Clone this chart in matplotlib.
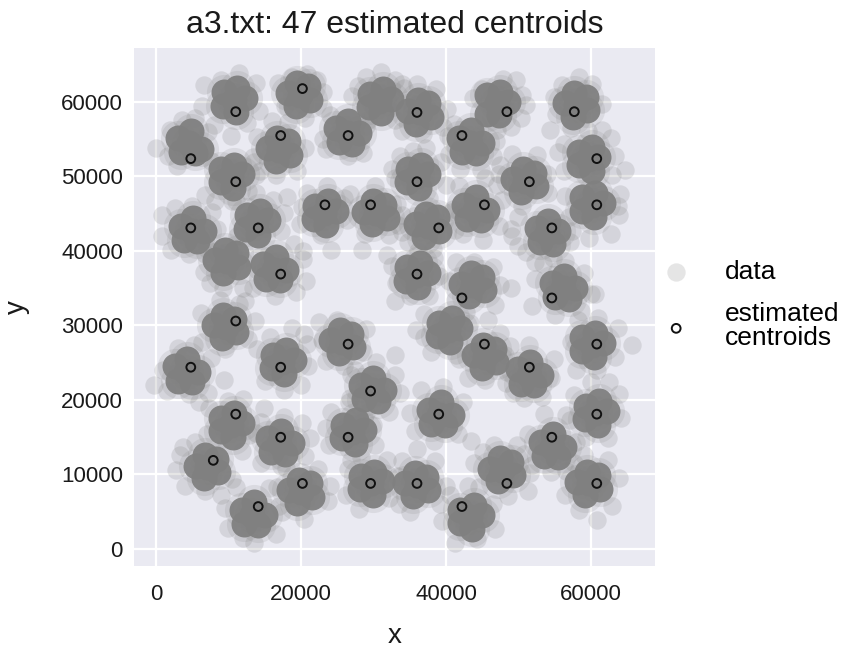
import matplotlib
matplotlib.use("Agg")
import matplotlib.pyplot as plt

TITLE = "a3.txt: 47 estimated centroids"
LEGEND_LABELS = ["data", "estimated\ncentroids"]
X_TICKS = [0, 20000, 40000, 60000]
Y_TICKS = [0, 10000, 20000, 30000, 40000, 50000, 60000]

centroids_x = [11000, 20200, 26500, 36000, 42200, 48400, 57700, 4800, 17200, 11000, 36000, 51500,
               60800, 60800, 23300, 29600, 45300, 4800, 14100, 39000, 54600, 17200, 36000, 42200,
               54600, 11000, 26500, 45300, 60800, 4800, 17200, 51500, 29600, 11000, 39000, 60800,
               17200, 26500, 54600, 7900, 20200, 29600, 36000, 48400, 60800, 14100, 42200]
centroids_y = [58700, 61800, 55500, 58600, 55500, 58700, 58700, 52400, 55500, 49300, 49300, 49300,
               52400, 46200, 46200, 46200, 46200, 43100, 43100, 43100, 43100, 36900, 36900, 33700,
               33700, 30600, 27500, 27500, 27500, 24400, 24400, 24400, 21200, 18100, 18100, 18100,
               15000, 15000, 15000, 11900, 8800, 8800, 8800, 8800, 8800, 5700, 5700]

# dense inner points of each of the 50 visible groups
dense_points = [
 (10700,60300),(12300,60600),(11200,61900),(9400,61300),(9300,59500),(11000,58700),
 (19800,61000),(21300,60300),(21000,62100),(19500,62600),(18200,61200),(19300,59500),
 (4600,54500),(6200,53700),(4800,56100),(3100,55200),(3500,53300),(5400,53100),
 (10300,50000),(11900,50300),(10800,51600),(9000,51000),(8900,49200),(10600,48400),
 (17000,53600),(18500,52900),(18200,54700),(16700,55200),(15400,53800),(16500,52100),
 (26300,55800),(28000,55800),(26500,57500),(24800,56500),(25200,54600),(27100,54400),
 (30800,60100),(32400,60400),(31300,61700),(29500,61100),(29400,59300),(31100,58500),
 (36400,58600),(38000,58000),(37500,59800),(36100,60300),(34800,58800),(35900,57100),
 (43300,54500),(45000,54500),(43500,56200),(41800,55200),(42200,53300),(44100,53100),
 (47000,59900),(48500,60000),(47500,61400),(45700,60900),(45600,58400),(47300,58300),
 (58000,59600),(59500,58900),(59300,60700),(57700,61200),(56400,59800),(57500,58000),
 (59600,52300),(61000,52600),(60100,53900),(58300,53300),(58400,51500),(60100,50700),
 (60100,46200),(61700,46500),(60600,47800),(58800,47200),(58700,45400),(60400,44600),
 (50900,49400),(52400,48700),(52100,50500),(50600,51000),(49300,49600),(50400,47900),
 (44000,45500),(45700,45500),(44200,47200),(42500,46200),(42900,44300),(44800,44100),
 (36000,50000),(37500,50300),(36500,51600),(34700,51000),(34600,49200),(36300,48400),
 (37500,43400),(39000,42700),(38700,44500),(37200,45000),(35900,43600),(37000,41900),
 (53900,42400),(55400,42700),(54100,44000),(52600,43100),(53000,41200),(54700,41000),
 (23200,45100),(24800,45400),(23700,46700),(21900,46100),(21800,44300),(23500,43500),
 (30300,45100),(31800,44400),(31500,46200),(30000,46700),(28700,45300),(29800,43600),
 (4900,42700),(6600,42700),(5100,44400),(3400,43400),(3800,41500),(5700,41300),
 (13800,43800),(15400,44100),(14300,45400),(12500,44800),(12400,43000),(14100,42200),
 (9800,38600),(11300,37900),(11000,39700),(9500,40200),(8200,38800),(9300,37100),
 (16300,37500),(18000,37500),(16500,39200),(14800,38200),(15200,36300),(17100,36100),
 (35900,36800),(37500,37100),(36400,38400),(34600,37800),(34500,36000),(36200,35200),
 (43700,35400),(45200,34700),(44900,36500),(43400,37000),(42100,35600),(43200,33900),
 (56100,35000),(57800,35000),(56300,36700),(54600,35700),(55000,33800),(56900,33600),
 (40300,29400),(41900,29700),(40800,31000),(39000,30400),(38900,28600),(40600,27800),
 (45400,25800),(46900,25100),(46600,26900),(45100,27400),(43800,26000),(44900,24300),
 (51400,23400),(53100,23400),(51600,25100),(49900,24100),(50300,22200),(52200,22000),
 (60100,27400),(61700,27700),(60600,29000),(58800,28400),(58700,26600),(60400,25800),
 (9600,29800),(11100,29100),(10800,30900),(9300,31400),(8000,30000),(9100,28300),
 (4100,23800),(5800,23800),(4300,25500),(2600,24500),(3000,22600),(4900,22400),
 (17400,25100),(19000,25400),(17900,26700),(16100,26100),(16000,24300),(17700,23500),
 (25700,27800),(27200,27100),(26900,28900),(25400,29400),(24100,28000),(25200,26300),
 (29800,21300),(31500,21300),(30000,23000),(28300,22000),(28700,20100),(30600,19900),
 (10300,16600),(11900,16900),(10800,18200),(9000,17600),(8900,15800),(10600,15000),
 (7100,11000),(8600,10300),(8300,12100),(6800,12600),(5500,11200),(6600,9500),
 (17000,14200),(18700,14200),(17200,15900),(15500,14900),(15900,13000),(17800,12800),
 (27100,15700),(28700,16000),(27600,17300),(25800,16700),(25700,14900),(27400,14100),
 (20000,7700),(21500,7000),(21200,8800),(19700,9300),(18400,7900),(19500,6200),
 (13300,4600),(15000,4600),(13500,6300),(11800,5300),(12200,3400),(14100,3200),
 (29600,8800),(31200,9100),(30100,10400),(28300,9800),(28200,8000),(29900,7200),
 (36000,8600),(37500,7900),(37200,9700),(35700,10200),(34400,8800),(35500,7100),
 (39100,18000),(40800,18000),(39300,19700),(37600,18700),(38000,16800),(39900,16600),
 (43300,4300),(44900,4600),(43800,5900),(42000,5300),(41900,3500),(43600,2700),
 (47700,10600),(49200,9900),(48900,11700),(47400,12200),(46100,10800),(47200,9100),
 (54600,13700),(56300,13700),(54800,15400),(53100,14400),(53500,12500),(55400,12300),
 (60600,18200),(62200,18500),(61100,19800),(59300,19200),(59200,17400),(60900,16600),
 (59700,8800),(61200,8100),(60900,9900),(59400,10400),(58100,9000),(59200,7300),
]

# thin outer points that stand apart from the dense groups
sparse_points = [
 (6600,62300),(11400,63900),(9000,62900),(13800,62500),(6400,59500),(14200,58800),(8000,56900),(10300,55400),(12600,57200),
 (16800,62600),(17800,59500),(20800,63700),(18800,63400),(23100,61300),(23000,59200),(22200,63000),(20500,57900),
 (0,53800),(2000,56200),(3600,57600),(5400,57900),(1600,52800),(2900,51400),(7200,56000),
 (6800,47500),(8200,46700),(12700,48000),(13800,50200),(10500,46700),(7600,52100),(13500,52000),
 (13400,52600),(13900,55300),(16000,57500),(18200,57300),(20600,53800),(19500,50800),(16600,50200),(14300,50800),
 (23000,55100),(24000,58200),(23500,53700),(26500,52800),(28500,53100),(29000,56800),
 (29000,63300),(31000,64000),(33000,62900),(27800,62200),(27000,60800),(34000,62400),(32900,57600),(29200,57600),
 (38600,61800),(36000,62400),(34200,61900),(40100,59000),(39600,56700),(36800,55700),(33900,56100),
 (40300,55400),(40400,53000),(42000,51000),(44800,50900),(46500,52800),(46900,54800),(41100,57100),(47000,56300),
 (47800,63100),(45000,61700),(43700,60500),(50500,60900),(51100,59600),(50300,57900),(48900,56700),(49700,63000),
 (56000,62300),(58300,63300),(60100,62400),(61500,59700),(54900,60700),(54300,56200),(55200,58400),(59600,56100),(57200,56500),
 (56300,54300),(62800,55200),(63300,52700),(62900,50200),(56300,50800),(55500,53300),(61500,56300),
 (64700,50900),(64000,47600),(63900,44800),(62800,42300),(59700,41800),(57000,44500),(56400,47400),(63700,46000),
 (52500,52900),(49100,53000),(47500,51500),(47100,48800),(53900,50300),(54100,47800),(50500,46100),(47300,50300),
 (45400,49800),(41800,48700),(47300,43300),(47700,46800),(45100,41500),(42400,42300),(40900,45600),(49000,43000),
 (37300,53800),(35500,53400),(33600,52800),(39300,52000),(40000,48800),(33000,49800),(32500,51000),(37700,47100),
 (41200,42800),(40700,45200),(38200,40300),(34800,41200),(33900,44800),(36100,40000),(34000,42500),
 (49100,42000),(49900,40700),(51000,39900),(54700,39100),(57100,41200),(57400,42700),(50000,44500),(52300,38500),
 (19800,43600),(20800,47800),(23600,48700),(25900,47100),(26300,44200),(22700,42100),(24100,40200),(20200,45900),
 (28400,40100),(31900,39500),(26800,47700),(30200,48700),(33200,46300),(33400,43500),(28800,42300),(32100,42100),
 (800,44800),(800,42000),(2600,45800),(4900,46000),(7700,45200),(8400,43000),(2100,40200),(4600,39600),
 (11000,46700),(13800,47800),(16200,46800),(17700,45100),(17300,42700),(11200,42000),(18100,47200),
 (6600,37200),(7100,40300),(6800,39600),(9300,35100),(12000,35000),(7500,35700),
 (20300,38900),(20700,36000),(19300,34500),(16400,34000),(13400,35000),(20300,40000),(19000,40900),
 (33000,33300),(35000,33900),(37600,33900),(39100,36600),(38400,39000),(32600,38000),(33100,35700),
 (41400,38500),(43800,38500),(46500,37800),(47500,35400),(49000,35000),(46700,32800),(41300,33400),(40400,36000),
 (52300,36200),(53400,38200),(56400,38600),(59000,37100),(60000,34200),(58600,31900),(55000,31400),(51800,32600),(60600,34200),
 (45800,30700),(37000,31500),(37000,28500),(38000,26400),(41400,26000),(42700,31800),(35800,29400),
 (43000,23000),(45400,22700),(48400,23700),(48800,27300),(43300,30400),(41800,25500),(47500,29000),
 (48200,26000),(48300,22300),(50800,20300),(53200,20400),(54500,23000),(54900,25500),(51500,27400),(49200,20900),
 (65600,27400),(63700,29700),(63300,25800),(60800,24000),(58000,24000),(57200,27800),(58200,30800),(61000,31000),
 (6200,31700),(8800,33400),(11500,32900),(13600,30600),(12700,28200),(9500,26900),(6400,27800),(12300,33300),
 (-300,22000),(1000,24000),(1500,21200),(3000,27000),(5200,27400),(7600,25600),(9400,22700),(7200,21000),(4500,20800),
 (14000,26800),(15700,28400),(18800,29700),(20800,27500),(21000,24500),(20000,22000),(17700,21400),(15000,22500),(20400,28800),
 (22500,30500),(22900,28000),(23500,25200),(26000,24500),(28500,26500),(29000,29500),(25000,30800),(33000,26000),
 (26700,20300),(27500,24000),(30400,25100),(33000,23400),(33600,21000),(32100,18400),(29000,18200),(26900,23300),
 (5900,19700),(7300,18900),(10000,19900),(14900,18900),(13800,15600),(11800,13100),(7100,15500),(12000,20100),
 (2700,10600),(3700,13700),(5400,14400),(8900,7200),(10500,9400),(6800,7800),(4000,8500),(3300,12600),
 (12800,15300),(14500,17000),(17600,17700),(21300,14900),(20600,12500),(18000,10900),(14500,11500),(20100,16900),
 (24200,18400),(26600,19700),(30000,16700),(30200,14000),(26900,11900),(23900,14000),(23400,16300),
 (16700,8300),(17300,11100),(22300,10800),(24000,8400),(23700,6500),(20400,4000),(17400,5000),
 (13500,800),(9500,5500),(10000,2800),(16500,2000),(16900,5800),(15600,8200),(11000,8300),(12000,1500),
 (26500,10800),(28300,12400),(31800,12000),(33300,9800),(32100,6800),(28000,5400),(26200,7300),
 (36000,13400),(38500,11800),(40000,8500),(39200,6100),(35000,4900),(33500,6000),(34000,11800),
 (35000,18200),(36500,21400),(39600,21800),(42300,19700),(43500,14500),(41600,15500),(38300,14500),(35700,15800),
 (41200,800),(39500,3700),(40500,7200),(43000,8400),(46500,6000),(46800,2700),(44300,1300),
 (46600,14000),(43900,11500),(44600,8300),(48500,7100),(51300,7800),(51800,11300),(49800,14000),(45100,13000),
 (50700,12700),(51300,15500),(53500,18100),(56600,18000),(58000,14400),(57600,11500),(54500,10300),(51600,10200),
 (62500,22400),(60000,22400),(57600,20700),(57100,17300),(63800,20800),(64200,17600),(62300,14900),(59300,15000),
 (60800,3900),(62900,5800),(63800,9500),(62300,11900),(59000,12600),(56600,10500),(56400,7200),(58400,5300),
]

data_x = [p[0] for p in dense_points]
data_y = [p[1] for p in dense_points]
sparse_x = [p[0] for p in sparse_points]
sparse_y = [p[1] for p in sparse_points]

plt.rcParams["font.family"] = ["Liberation Sans", "DejaVu Sans"]

fig = plt.figure(figsize=(8.46, 6.48), dpi=100)
ax = fig.add_axes([134 / 846, 1 - 566 / 648, (655 - 134) / 846, (566 - 48) / 648])
ax.set_facecolor("#EAEAF2")
for s in ax.spines.values():
    s.set_visible(False)
ax.grid(True, color="white", linewidth=1.6)
ax.set_axisbelow(True)
ax.tick_params(length=0, labelsize=16, pad=8, colors="#1a1a1a")
ax.tick_params(axis="x", pad=13)

GRAY = "#808080"
MARKER = 175
ax.scatter(sparse_x, sparse_y, s=MARKER, color=GRAY, alpha=0.2, linewidths=0, label=LEGEND_LABELS[0], zorder=2)
ax.scatter(data_x, data_y, s=640, color=GRAY, alpha=0.15, linewidths=0, zorder=2.05)
ax.scatter(data_x, data_y, s=350, color=GRAY, alpha=0.95, linewidths=0, zorder=2.1)
ax.scatter(centroids_x, centroids_y, s=40, facecolors="none", edgecolors="#111111", linewidths=1.4,
           label=LEGEND_LABELS[1], zorder=3)

ax.set_xlim(-3034, 68830)
ax.set_ylim(-2282, 67248)
ax.set_xticks(X_TICKS)
ax.set_yticks(Y_TICKS)
ax.set_xlabel("x", fontsize=20, color="#1a1a1a", labelpad=13)
ax.set_ylabel("y", fontsize=20, color="#1a1a1a", labelpad=22)
ax.set_title(TITLE, fontsize=23, color="#1a1a1a", pad=11)

handles, labels = ax.get_legend_handles_labels()
leg = ax.legend(handles, labels, loc="center left", bbox_to_anchor=(0.99, 0.504), frameon=False,
                fontsize=19, handletextpad=0.85, labelspacing=0.67, borderaxespad=0.0, borderpad=0.0,
                scatterpoints=1)
for t in leg.get_texts():
    t.set_linespacing(1.0)

fig.savefig("out.png", dpi=100, facecolor="white")
